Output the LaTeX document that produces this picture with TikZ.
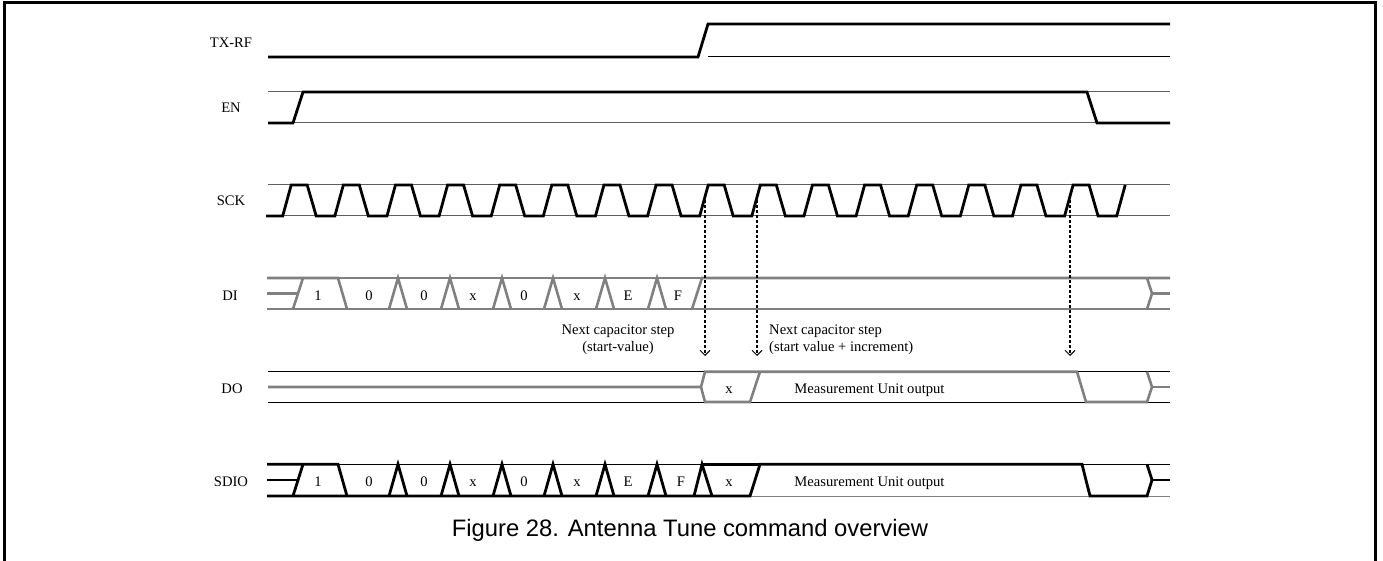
\documentclass[tikz,border=0pt]{standalone}
\usepackage{fontspec}
\setmainfont{Liberation Serif}
\newfontfamily\capfont{Liberation Sans}
\usepackage{tikz}
\usetikzlibrary{arrows.meta}

\definecolor{busgray}{RGB}{128,128,128}
\definecolor{refgray}{RGB}{95,95,95}

\begin{document}
\begin{tikzpicture}[x=1pt,y=-1pt,
  sig/.style={line width=2.8pt},
  bus/.style={busgray,line width=2.6pt},
  ref/.style={refgray,line width=1pt},
  lbl/.style={font=\fontsize{14.6}{17}\selectfont,inner sep=0pt,text height=10pt,text depth=3pt},
  note/.style={font=\fontsize{14.6}{17}\selectfont,inner sep=0pt},
  cue/.style={densely dashed,line width=1.1pt,-{Straight Barb[length=5pt,width=10pt,line width=0.9pt]}}]
\useasboundingbox (0,0) rectangle (1383,561);
\draw[line width=2.6pt] (4.3,561) -- (4.3,2.3) -- (1375.7,2.3) -- (1375.7,561);

% signal names
\node[lbl] (txrf) at (231,44.5) {TX-RF};
\node[lbl] (en) at (231,109.5) {EN};
\node[lbl] (sck) at (231,202.5) {SCK};
\node[lbl] (di) at (230,297) {DI};
\node[lbl] (do) at (232,389.5) {DO};
\node[lbl] (sdio) at (231,483) {SDIO};

% TX-RF
\draw[ref,black] (708,57) -- (1170,57);
\draw[sig] (268,57) -- (698,57) -- (708,24) -- (1170,24);

% EN
\draw[ref] (268,92) -- (1170,92);
\draw[ref] (268,123) -- (1170,123);
\draw[sig] (268,123) -- (293,123) -- (303,92) -- (1087,92) -- (1097,123) -- (1170,123);

% SCK
\draw[ref] (268,185) -- (1170,185);
\draw[ref] (268,216) -- (1170,216);
\draw[sig] (266,216) foreach \k in {0,...,15} {
  -- ({282.7+52.125*\k},216) -- ({291.2+52.125*\k},185)
  -- ({307.2+52.125*\k},185) -- ({316.2+52.125*\k},216)}
  -- (1116.7,216) -- (1125.2,185);

% DI
\draw[ref,busgray,line width=1.3pt] (338,278) -- (702,278);
\draw[bus] (267,278) -- (338,278) -- (347,309);
\draw[bus] (267,293.5) -- (297,293.5);
\draw[bus] (293,309) -- (303,278);
\draw[bus] (267,309) -- (1170,309);
\draw[bus] (692,309) -- (702,278) -- (1170,278);
\foreach \p in {398,450,502,553,605,657}
  \draw[bus] (\p-9,309) -- (\p,278) -- (\p+9,309);
\draw[bus] (1147,278) -- (1152,293.5) -- (1147,309);
\draw[bus] (1152,293.5) -- (1170,293.5);
\foreach \t/\xx in {1/318,0/369,0/424,x/473,0/524,x/577,E/628,F/678}
  \node[lbl] at (\xx,297) {\t};

% DO
\draw[ref,black] (268,371.7) -- (1170,371.7);
\draw[ref,black] (268,402) -- (1170,402);
\draw[bus] (268,387) -- (701,387) -- (705,371.7) -- (1077,371.7) -- (1086,402)
  -- (1147,402) -- (1152,387) -- (1147,371.7);
\draw[bus] (701,387) -- (705,402) -- (750,402) -- (760,371.7);
\draw[bus] (1152,387) -- (1170,387);
\node[lbl] (dox) at (729,389.5) {x};
\node[lbl] (domu) at (869.5,389.5) {Measurement Unit output};

% SDIO
\draw[ref,black] (267,464.3) -- (1170,464.3);
\draw[ref,busgray] (267,496) -- (1170,496);
\draw[sig] (267,464.3) -- (338,464.3) -- (347,496);
\draw[sig] (267,480) -- (297,480);
\draw[sig] (293,496) -- (303,464.3);
\draw[sig] (267,496) -- (750,496) -- (760,464.3) -- (1082,464.3) -- (1090,496)
  -- (1147,496) -- (1152,480) -- (1147,464.3);
\foreach \p in {398,450,502,553,605,657}
  \draw[sig] (\p-9,496) -- (\p,464.3) -- (\p+9,496);
\draw[sig] (694,496) -- (702,464.3) -- (712,496);
\draw[sig] (702,464.3) -- (760,464.3);
\draw[sig] (1152,480) -- (1170,480);
\foreach \t/\xx in {1/318,0/369,0/424,x/473,0/524,x/577,E/628,F/681,x/729}
  \node[lbl] at (\xx,483) {\t};
\node[lbl] (sdiomu) at (869.5,483) {Measurement Unit output};

% capacitor steps
\coordinate (cueA) at (705,200);
\coordinate (cueB) at (757,200);
\coordinate (cueC) at (1070,200);
\coordinate (tip) at (0,356);
\draw[cue] (cueA) -- (cueA |- tip);
\draw[cue] (cueB) -- (cueB |- tip);
\draw[cue] (cueC) -- (cueC |- tip);
\node[note,align=center] (stepA) at (618,340) {Next capacitor step\\(start-value)};
\node[note,align=left,anchor=west] (stepB) at (769,340) {Next capacitor step\\(start value + increment)};

\node[font=\capfont\fontsize{23.8}{28}\selectfont,inner sep=0pt] (capt) at (690,530) {Figure 28. Antenna Tune command overview};
\end{tikzpicture}
\end{document}
